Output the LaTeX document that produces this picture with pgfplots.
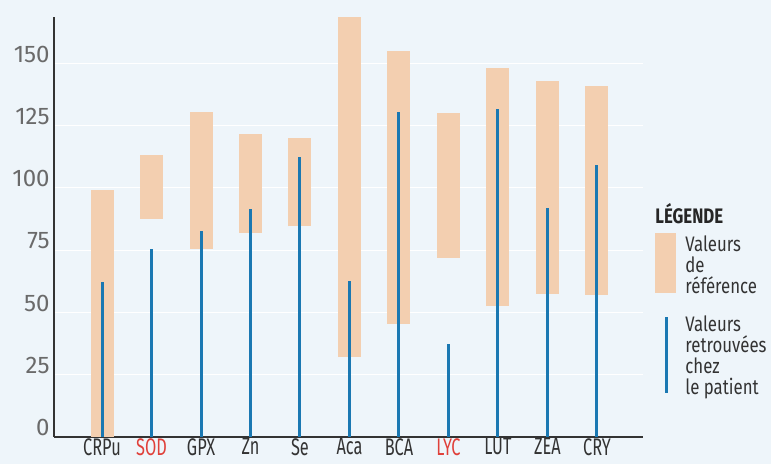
\documentclass[border=0pt]{standalone}
\usepackage{fontspec}
\setmainfont{Fira Sans}
\newfontfamily\condfont{Fira Sans}[FakeStretch=0.68]
\newfontfamily\legfont{Fira Sans}[FakeStretch=0.8]
\usepackage{pgfplots}
\usepackage{pgfplotstable}
\pgfplotsset{compat=1.18}

\definecolor{bgc}{HTML}{EEF5FA}
\definecolor{peach}{HTML}{F3CFB0}
\definecolor{pblue}{HTML}{1A78B2}
\definecolor{lblred}{HTML}{E0403A}
\definecolor{tickgray}{HTML}{6A6A6A}

% reference range (low, high) and patient value
\pgfplotstableread{
x  low   high   pat
0  0     99     62
1  87.5  113    75.5
2  75.5  130.5  82.5
3  82    121.5  91.5
4  84.5  120    112.5
5  32    168.5  62.5
6  45.5  155    130.5
7  72    130    37.5
8  52.5  148    131.5
9  57.5  143    92
10 57    141    109
}\datatable

\begin{document}
\begin{tikzpicture}
\fill[bgc] (-27pt,-13.5pt) rectangle (358.5pt,218.5pt);
\begin{axis}[
  at={(0pt,0pt)}, anchor=south west,
  scale only axis, width=294.5pt, height=210pt,
  xmin=-0.97, xmax=10.93, ymin=0, ymax=168.5,
  axis x line*=bottom, axis y line*=left,
  axis line style={black!80, line width=0.8pt},
  xtick={0,...,10},
  xticklabels={CRPu,\textcolor{lblred}{SOD},GPX,Zn,Se,Aca,BCA,\textcolor{lblred}{LYC},LUT,ZEA,CRY},
  ytick={0,25,...,150},
  major tick length=0pt,
  ymajorgrids, grid style={white, line width=0.5pt},
  /pgf/number format/assume math mode=true,
  xticklabel style={font=\condfont\fontsize{12}{12}\selectfont, text=black!80, inner sep=1pt, yshift=0.5pt},
  yticklabel style={font=\fontsize{12}{12}\selectfont, text=tickgray, anchor=east, inner sep=2pt, yshift=4.5pt},
  clip=false,
]
\addplot[draw=none, mark=none, forget plot,
  error bars/.cd, y dir=plus, y explicit, error mark=none,
  error bar style={draw=peach, line width=11.5pt}]
  table[x=x, y=low, y error expr=\thisrow{high}-\thisrow{low}] {\datatable};
\addplot[ycomb, pblue, line width=1.5pt, mark=none] table[x=x, y=pat] {\datatable};
\end{axis}

% legend
\node[anchor=west, inner sep=0, text=black!85,
  font=\legfont\bfseries\fontsize{10.5}{10.5}\selectfont] at (300.5pt,111.5pt) {LÉGENDE};
\fill[peach] (300.5pt,72pt) rectangle (311pt,102pt);
\node[anchor=north west, align=left, inner sep=0, text=black!80,
  font=\legfont\fontsize{10.5}{10.5}\selectfont] at (315.5pt,101pt) {Valeurs\\de\\référence};
\draw[pblue, line width=1.5pt] (306pt,22pt) -- (306pt,60pt);
\node[anchor=north west, align=left, inner sep=0, text=black!80,
  font=\legfont\fontsize{10.5}{10.5}\selectfont] at (315.5pt,61pt) {Valeurs\\retrouvées\\chez\\le patient};

\pgfresetboundingbox
\useasboundingbox (-27pt,-13.5pt) rectangle (358.5pt,218.5pt);
\end{tikzpicture}
\end{document}
